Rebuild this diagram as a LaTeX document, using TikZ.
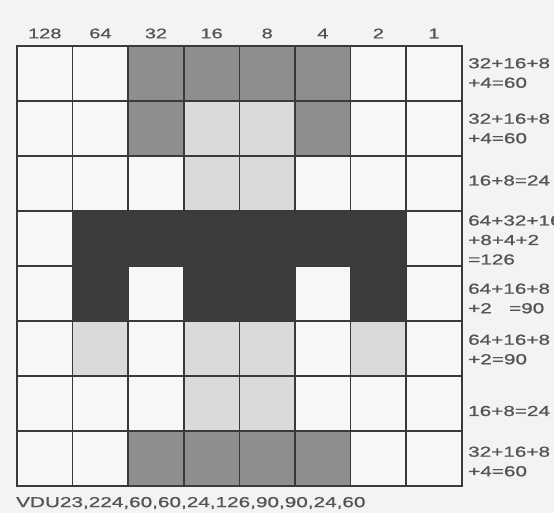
\documentclass[tikz,border=0pt]{standalone}
\usepackage{fontspec}
\newfontfamily\labfont[FakeStretch=1.43,FakeBold=0.9]{Liberation Sans}
\definecolor{bgc}{HTML}{F3F3F3}
\definecolor{shadezero}{HTML}{F7F7F7}
\definecolor{shadeone}{HTML}{8E8E8E}
\definecolor{shadetwo}{HTML}{DADADA}
\definecolor{shadethree}{HTML}{3C3C3C}
\definecolor{gridc}{HTML}{3A3A3A}
\definecolor{textc}{HTML}{555555}
\tikzset{
  cellbox/.style={draw=gridc, line width=1.6pt, minimum width=55.6pt, minimum height=55pt, inner sep=0pt, outer sep=0pt},
  hdr/.style={font=\labfont\fontsize{14}{16}\selectfont, text=textc, inner sep=0pt},
  rlab/.style={font=\labfont\fontsize{14.5}{19.5}\selectfont, text=textc, inner sep=0pt, anchor=west, align=left},
  blab/.style={font=\labfont\fontsize{14.5}{16}\selectfont, text=textc, inner sep=0pt, anchor=west}
}
\begin{document}
\begin{tikzpicture}[x=1pt,y=-1pt]
\useasboundingbox[fill=bgc] (0,0) rectangle (554,513);
\foreach \row [count=\r] in {
  {zero,zero,one,one,one,one,zero,zero},
  {zero,zero,one,two,two,one,zero,zero},
  {zero,zero,zero,two,two,zero,zero,zero},
  {zero,three,three,three,three,three,three,zero},
  {zero,three,zero,three,three,zero,three,zero},
  {zero,two,zero,two,two,zero,two,zero},
  {zero,zero,zero,two,two,zero,zero,zero},
  {zero,zero,one,one,one,one,zero,zero}} {
  \foreach \v [count=\c] in \row {
    \node[cellbox, fill=shade\v] (c\r-\c) at ({17+(\c-0.5)*55.6},{46+(\r-0.5)*55}) {};
  }
}
\draw[gridc, line width=2.4pt] (c1-1.north west) rectangle (c8-8.south east);
\foreach \t [count=\c] in {128,64,32,16,8,4,2,1} {
  \node[hdr] (h\c) at ({17+(\c-0.5)*55.6},33.5) {\t};
}
\node[rlab] (r1) at (468,73) {32+16+8\\+4=60};
\node[rlab] (r2) at (468,128.5) {32+16+8\\+4=60};
\node[rlab] (r3) at (468,180.5) {16+8=24};
\node[rlab] (r4) at (468,240) {64+32+16\\+8+4+2\\=126};
\node[rlab] (r5) at (468,298.5) {64+16+8\\+2~~~=90};
\node[rlab] (r6) at (468,349.5) {64+16+8\\+2=90};
\node[rlab] (r7) at (468,411) {16+8=24};
\node[rlab] (r8) at (468,461.5) {32+16+8\\+4=60};
\node[blab] (vdu) at (16,503) {VDU23,224,60,60,24,126,90,90,24,60};
\end{tikzpicture}
\end{document}
